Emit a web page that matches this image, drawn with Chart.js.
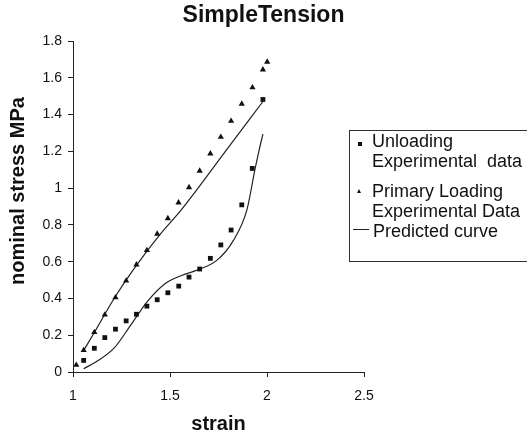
<!DOCTYPE html>
<html>
<head>
<meta charset="utf-8">
<script src="https://cdn.jsdelivr.net/npm/chart.js"></script>
<style>
  body { margin: 0; overflow: hidden; background: #fff; }
  #wrap { position: relative; width: 527px; height: 436px; }
  #legendBox { position: absolute; left: 349px; top: 130px; width: 200px; height: 130px; border: 1px solid #333; }
  .lg { position: absolute; font-family: Arial, "Liberation Sans", sans-serif; font-size: 18px; line-height: 20px; color: #111; white-space: pre; }
  .mk-sq { position: absolute; width: 4px; height: 4px; background: #111; }
  .mk-tri { position: absolute; width: 0; height: 0; border-left: 2.5px solid transparent; border-right: 2.5px solid transparent; border-bottom: 4.5px solid #111; }
  .mk-line { position: absolute; height: 1px; background: #222; }
</style>
</head>
<body>
<div id="wrap">
  <canvas id="myChart" width="527" height="436"></canvas>
  <div id="legendBox"></div>
  <div class="mk-sq" style="left:357.5px; top:142px;"></div>
  <div class="lg" style="left:372px; top:131px;">Unloading
Experimental  data</div>
  <div class="mk-tri" style="left:357px; top:189px;"></div>
  <div class="lg" style="left:372px; top:181px;">Primary Loading
Experimental Data</div>
  <div class="mk-line" style="left:353px; top:229px; width:16px;"></div>
  <div class="lg" style="left:373px; top:221px;">Predicted curve</div>
</div>
<script>
// axis ticks
var xTicks = [1, 1.5, 2, 2.5];
var yTicks = [0, 0.2, 0.4, 0.6, 0.8, 1, 1.2, 1.4, 1.6, 1.8];

// primary loading experimental data (triangles)
var loadStrain = [1.017, 1.055, 1.11, 1.164, 1.219, 1.274, 1.327, 1.381, 1.434, 1.489, 1.544, 1.598, 1.653, 1.708, 1.762, 1.815, 1.87, 1.925, 1.979, 2.001];
var loadStress = [0.038, 0.118, 0.216, 0.311, 0.405, 0.496, 0.584, 0.662, 0.751, 0.835, 0.921, 1.004, 1.094, 1.187, 1.278, 1.365, 1.458, 1.547, 1.644, 1.686];

// unloading experimental data (squares)
var unloadStrain = [1.055, 1.11, 1.164, 1.219, 1.274, 1.327, 1.381, 1.434, 1.489, 1.545, 1.598, 1.653, 1.708, 1.762, 1.815, 1.87, 1.924, 1.979];
var unloadStress = [0.063, 0.129, 0.187, 0.233, 0.278, 0.314, 0.358, 0.393, 0.431, 0.467, 0.516, 0.56, 0.618, 0.691, 0.772, 0.909, 1.107, 1.482];

// predicted curves
var predLoadStrain = [1.052, 1.11, 1.215, 1.327, 1.45, 1.557, 1.8, 1.979];
var predLoadStress = [0.112, 0.215, 0.405, 0.58, 0.75, 0.88, 1.22, 1.471];
var predUnloadStrain = [1.055, 1.129, 1.215, 1.302, 1.388, 1.474, 1.56, 1.629, 1.741, 1.827, 1.896, 1.939, 1.958, 1.979];
var predUnloadStress = [0.018, 0.062, 0.134, 0.262, 0.389, 0.48, 0.525, 0.55, 0.607, 0.716, 0.88, 1.107, 1.2, 1.294];

function pairs(xs, ys) {
    return xs.map(function (x, i) { return { x: x, y: ys[i] }; });
}

var fontFamily = 'Arial, "Liberation Sans", sans-serif';

// y axis title drawn by hand so it sits where the original has it
var yTitlePlugin = {
    id: 'yTitle',
    afterDraw: function (chart) {
        var c = chart.ctx;
        c.save();
        c.translate(18.5, 191);
        c.rotate(-Math.PI / 2);
        c.font = 'bold 20px ' + fontFamily;
        c.fillStyle = '#111';
        c.textAlign = 'center';
        c.textBaseline = 'middle';
        c.fillText('nominal stress MPa', 0, 0);
        c.restore();
    }
};

var ctx = document.getElementById('myChart').getContext('2d');

var chart = new Chart(ctx, {
    type: 'scatter',
    data: {
        datasets: [{
            label: 'Unloading Experimental data',
            data: pairs(unloadStrain, unloadStress),
            pointStyle: 'rect',
            pointRadius: 3.4,
            backgroundColor: '#111',
            borderColor: '#111',
            borderWidth: 0,
            yAxisID: 'y'
        }, {
            label: 'Primary Loading Experimental Data',
            data: pairs(loadStrain, loadStress),
            pointStyle: 'triangle',
            pointRadius: 3.6,
            backgroundColor: '#111',
            borderColor: '#111',
            borderWidth: 0,
            yAxisID: 'y'
        }, {
            label: 'Predicted curve',
            data: pairs(predLoadStrain, predLoadStress),
            showLine: true,
            pointRadius: 0,
            borderColor: '#222',
            borderWidth: 1.2,
            cubicInterpolationMode: 'monotone',
            yAxisID: 'y'
        }, {
            label: 'Predicted curve',
            data: pairs(predUnloadStrain, predUnloadStress),
            showLine: true,
            pointRadius: 0,
            borderColor: '#222',
            borderWidth: 1.2,
            cubicInterpolationMode: 'monotone',
            yAxisID: 'y'
        }]
    },
    options: {
        responsive: false,
        animation: false,
        devicePixelRatio: 1,
        layout: { padding: 0 },
        plugins: {
            legend: { display: false },
            tooltip: { enabled: false },
            title: {
                display: true,
                text: 'SimpleTension',
                color: '#111',
                font: { family: fontFamily, size: 23, weight: 'bold' },
                padding: { top: 2, bottom: 11.4 }
            }
        },
        scales: {
            x: {
                type: 'linear',
                min: 1,
                max: 2.5,
                afterBuildTicks: function (scale) {
                    scale.ticks = xTicks.map(function (v) { return { value: v }; });
                },
                afterFit: function (scale) { scale.height = 64; },
                ticks: {
                    color: '#111',
                    padding: 11,
                    font: { family: fontFamily, size: 14 },
                    callback: function (v) { return String(v); }
                },
                grid: { display: true, drawOnChartArea: false, drawTicks: true, tickLength: 5, color: '#222' },
                border: { display: true, color: '#222', width: 1 },
                title: {
                    display: true,
                    text: 'strain',
                    color: '#111',
                    font: { family: fontFamily, size: 20, weight: 'bold' },
                    padding: { top: 0, bottom: 0 }
                }
            },
            y: {
                type: 'linear',
                position: 'left',
                min: 0,
                max: 1.8,
                afterBuildTicks: function (scale) {
                    scale.ticks = yTicks.map(function (v) { return { value: v }; });
                },
                afterFit: function (scale) { scale.width = 73; },
                ticks: {
                    color: '#111',
                    padding: 6,
                    font: { family: fontFamily, size: 14 },
                    callback: function (v) { return String(v); }
                },
                grid: { display: true, drawOnChartArea: false, drawTicks: true, tickLength: 5, color: '#222' },
                border: { display: true, color: '#222', width: 1 }
            },
            // empty right axis, only keeps the room where the legend sits
            y2: {
                type: 'linear',
                position: 'right',
                display: true,
                afterFit: function (scale) { scale.width = 163; },
                ticks: { display: false },
                grid: { display: false },
                border: { display: false }
            }
        }
    },
    plugins: [yTitlePlugin]
});
</script>
</body>
</html>
